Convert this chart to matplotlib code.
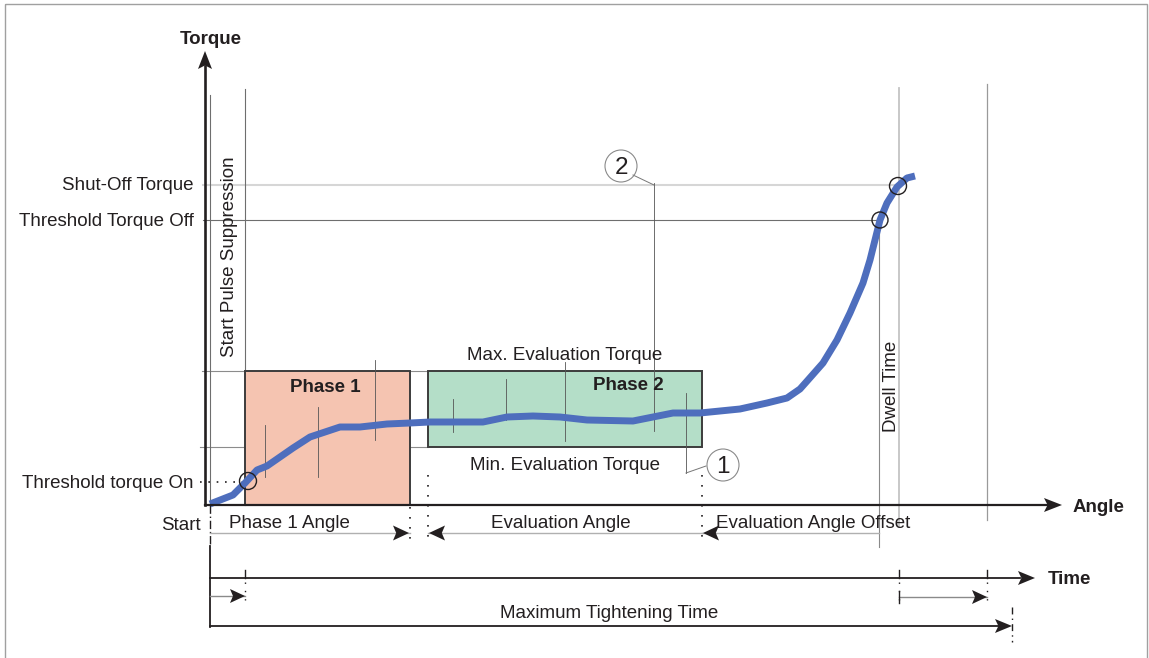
import matplotlib
matplotlib.use('Agg')
import matplotlib.pyplot as plt
from matplotlib.patches import Rectangle, Circle, Polygon

plt.rcParams['font.family'] = ['Liberation Sans', 'DejaVu Sans']

# ---- data (diagram units: pixels, y grows downward) ----
curve_angle = [210, 233, 245, 257, 267, 293, 310, 340, 360, 387, 410, 430, 450, 483, 507,
               533, 560, 587, 633, 653, 673, 700, 740, 767, 787, 800, 808, 823, 837, 850,
               863, 870, 875, 880, 887, 897, 907, 915]
curve_torque = [504, 495, 483, 470, 466, 448, 437, 427, 427, 424, 423, 422, 422, 422, 417,
                416, 417, 420, 421, 417, 413, 413, 409, 403, 398, 389, 380, 363, 340, 313,
                283, 260, 240, 220, 203, 187, 178, 176]

torque_labels = ['Shut-Off Torque', 'Threshold Torque Off', 'Threshold torque On']
torque_levels = [185, 220, 482]
eval_max, eval_min = 371, 447

origin_x, origin_y = 205, 505
start_x = 210
phase1 = (245, 410)
phase2 = (428, 702)
off_x, dwell_x, end_x = 879, 899, 987
maxtime_x = 1012
angle_arrow_y = 533
time_y = 578

fig = plt.figure(figsize=(11.49, 6.58), dpi=100)
ax = fig.add_axes([0, 0, 1, 1])
ax.set_xlim(0, 1149)
ax.set_ylim(658, 0)
ax.axis('off')

DARK = '#231f20'
FS = 13.5
DY = 2  # baseline compensation for va='center'


def head(x, y, d, color=DARK, L=17, W=7.5):
    """Arrow head with tip at (x, y); d = +1 right, -1 left, 'up'."""
    if d == 'up':
        pts = [(x, y), (x - W, y + L), (x, y + L * 0.8), (x + W, y + L)]
    else:
        pts = [(x, y), (x - d * L, y - W), (x - d * L * 0.8, y), (x - d * L, y + W)]
    ax.add_patch(Polygon(pts, closed=True, color=color, lw=0, zorder=6))


def hline(y, x0, x1, **kw):
    ax.plot([x0, x1], [y, y], **kw)


def vline(x, y0, y1, **kw):
    ax.plot([x, x], [y0, y1], **kw)


def txt(x, y, s, **kw):
    kw.setdefault('fontsize', FS)
    kw.setdefault('color', DARK)
    kw.setdefault('va', 'center')
    ax.text(x, y + DY, s, **kw)


# border
ax.add_patch(Rectangle((5, 4), 1142, 700, fill=False, ec='#a0a0a0', lw=1.0))

# horizontal reference lines
hline(torque_levels[0], 203, 900, color='#d6d6d6', lw=1.5, zorder=1)
hline(torque_levels[1], 203, 880, color='#6e6e6e', lw=0.8, zorder=1)
hline(eval_max, 202, 428, color='#8c8c8c', lw=0.8, zorder=1)
hline(eval_min, 200, 428, color='#8c8c8c', lw=0.8, zorder=1)
hline(torque_levels[2], 200, 242, color=DARK, lw=1.2, ls=(0, (1, 4)), zorder=2)

# vertical reference lines
vline(start_x, 95, origin_y, color='#6e6e6e', lw=0.8, zorder=1)
vline(phase1[0], 89, origin_y, color='#6e6e6e', lw=0.8, zorder=1)
vline(off_x, torque_levels[1], 547, color='#8a8a8a', lw=0.8, zorder=1)
vline(dwell_x, 88, 527, color='#c4c4c4', lw=1.3, zorder=1)
vline(end_x, 84, 520, color='#9a9a9a', lw=0.9, zorder=1)

# phase boxes
ax.add_patch(Rectangle((phase1[0], eval_max), phase1[1] - phase1[0], origin_y - eval_max,
                       fc='#f5c4b1', ec='#3c3c3c', lw=1.4, zorder=2))
ax.add_patch(Rectangle((phase2[0], eval_max), phase2[1] - phase2[0], eval_min - eval_max,
                       fc='#b4dec8', ec='#3c3c3c', lw=1.4, zorder=2))

# evaluation sampling marks
marks = [(265, 425, 477), (318, 407, 477), (375, 360, 440), (453, 399, 432),
         (506, 379, 420), (565, 362, 441), (654, 183, 431), (686, 393, 473)]
for mx, m0, m1 in marks:
    vline(mx, m0, m1, color='#555555', lw=0.6, zorder=3)

# callouts
ax.plot([654, 633], [185, 175], color='#777777', lw=0.7, zorder=3)
ax.plot([686, 706], [473, 466], color='#777777', lw=0.7, zorder=3)
for cx, cy, lab in [(621, 166, '2'), (723, 465, '1')]:
    ax.add_patch(Circle((cx, cy), 16, fill=False, ec='#8a8a8a', lw=0.8, zorder=4))
    txt(cx, cy, lab, ha='center', fontsize=17.5, zorder=5)

# curve
ax.plot(curve_angle, curve_torque, color='#4e6ebd', lw=5.0, solid_capstyle='butt',
        solid_joinstyle='round', zorder=5)
for cx, cy, r in [(248, 481, 8.5), (880, 220, 8), (898, 186, 8.5)]:
    ax.add_patch(Circle((cx, cy), r, fill=False, ec=DARK, lw=1.0, zorder=6))

# main axes
vline(origin_x, origin_y, 66, color=DARK, lw=1.9, zorder=5)
head(origin_x, 51, 'up', L=18, W=7)
hline(origin_y, origin_x, 1047, color=DARK, lw=1.6, zorder=5)
head(1062, origin_y, 1, L=18, W=7)

# angle dimension lines
vline(start_x, origin_y, 545, color=DARK, lw=1.0, ls=(0, (6, 2, 1, 2)), zorder=3)
for dx, y0 in [(phase1[1], origin_y + 2), (phase2[0], 475), (phase2[1], 475)]:
    vline(dx, y0, 545, color=DARK, lw=1.2, ls=(0, (1, 5)), zorder=3)
hline(angle_arrow_y, start_x, phase1[1], color='#b0b0b0', lw=1.0, zorder=3)
head(phase1[1] - 1, angle_arrow_y, 1, L=16, W=7.5)
hline(angle_arrow_y, phase2[0], phase2[1], color='#b0b0b0', lw=1.0, zorder=3)
head(phase2[0] + 1, angle_arrow_y, -1, L=16, W=7.5)
hline(angle_arrow_y, phase2[1], off_x, color='#b0b0b0', lw=1.0, zorder=3)
head(phase2[1] + 1, angle_arrow_y, -1, L=16, W=7.5)

# time axis
vline(start_x, 546, 627, color=DARK, lw=1.3, zorder=3)
hline(time_y, start_x, 1020, color=DARK, lw=1.3, zorder=5)
head(1035, time_y, 1, L=17, W=7)
for tx in [phase1[0], dwell_x, end_x]:
    vline(tx, 570, time_y, color=DARK, lw=1.0, zorder=4)
    vline(tx, 582, 600, color=DARK, lw=1.0, ls=(0, (1, 5)), zorder=4)
hline(596, start_x, phase1[0], color='#8a8a8a', lw=1.0, zorder=3)
head(phase1[0], 596, 1, L=15, W=7)
vline(dwell_x, 591, 603, color=DARK, lw=1.0, zorder=4)
hline(597, dwell_x, end_x, color='#8a8a8a', lw=1.0, zorder=3)
head(end_x, 597, 1, L=15, W=7)
hline(626, start_x, maxtime_x - 5, color=DARK, lw=1.3, zorder=3)
head(maxtime_x, 626, 1, L=17, W=7)
vline(maxtime_x, 607, 642, color=DARK, lw=1.0, ls=(0, (5, 3, 1, 3)), zorder=3)

# texts
txt(211, 38, 'Torque', ha='center', fontweight='bold')
txt(1073, 506, 'Angle', ha='left', fontweight='bold')
txt(1048, 577, 'Time', ha='left', fontweight='bold')
for lab, lev in zip(torque_labels, torque_levels):
    txt(194, lev - 1, lab, ha='right')
txt(201, 524, 'Start', ha='right')
txt(289, 522, 'Phase 1 Angle', ha='center')
txt(561, 522, 'Evaluation Angle', ha='center')
txt(716, 522, 'Evaluation Angle Offset', ha='left', zorder=6)
txt(609, 612, 'Maximum Tightening Time', ha='center')
txt(565, 354, 'Max. Evaluation Torque', ha='center')
txt(565, 464, 'Min. Evaluation Torque', ha='center')
txt(325, 386, 'Phase 1', ha='center', fontweight='bold', zorder=6)
txt(628, 383, 'Phase 2', ha='center', fontweight='bold', zorder=6)
ax.text(230, 257, 'Start Pulse Suppression', rotation=90, ha='center', va='center',
        fontsize=FS, color=DARK)
ax.text(891, 386, 'Dwell Time', rotation=90, ha='center', va='center', fontsize=FS, color=DARK)

fig.savefig('out.png', dpi=100)
